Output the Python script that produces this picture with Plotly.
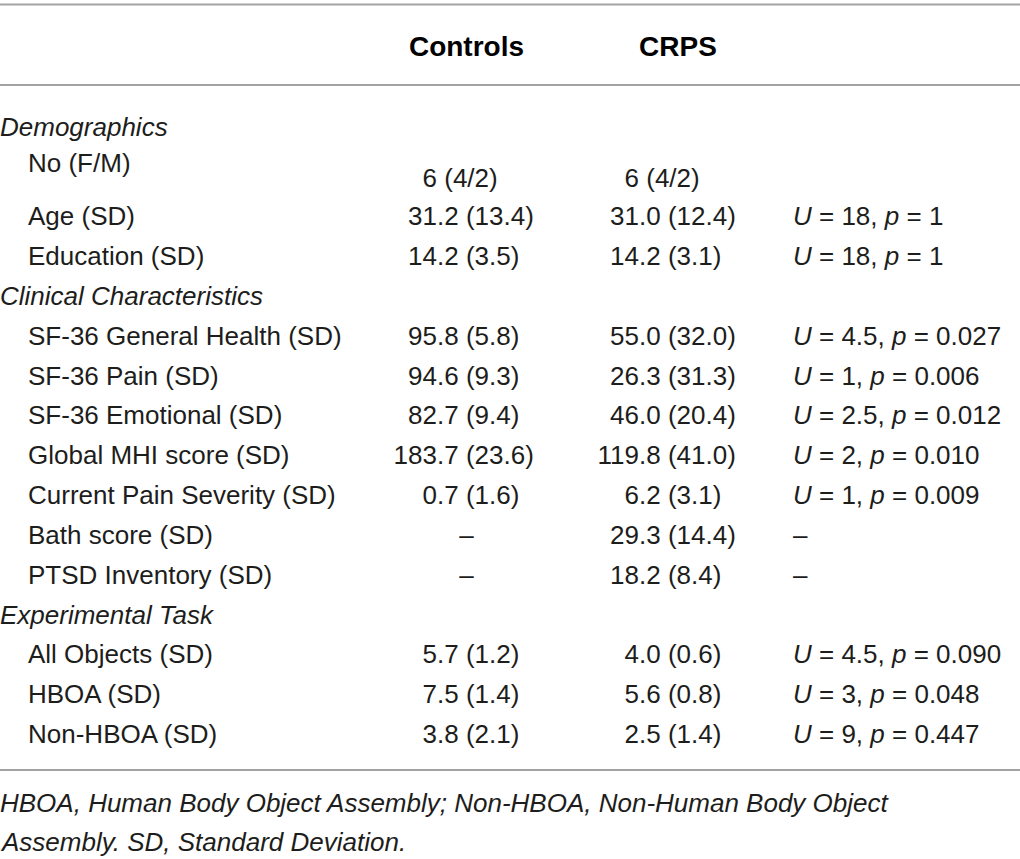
import plotly.graph_objects as go

# table content
col_headers = ['Controls', 'CRPS']
row_labels = ['Demographics', 'No (F/M)', 'Age (SD)', 'Education (SD)',
              'Clinical Characteristics', 'SF-36 General Health (SD)', 'SF-36 Pain (SD)',
              'SF-36 Emotional (SD)', 'Global MHI score (SD)', 'Current Pain Severity (SD)',
              'Bath score (SD)', 'PTSD Inventory (SD)',
              'Experimental Task', 'All Objects (SD)', 'HBOA (SD)', 'Non-HBOA (SD)']
is_section = [True, False, False, False, True, False, False, False, False, False,
              False, False, True, False, False, False]
controls = ['', '6 (4/2)', '31.2 (13.4)', '14.2 (3.5)', '', '95.8 (5.8)', '94.6 (9.3)',
            '82.7 (9.4)', '183.7 (23.6)', '0.7 (1.6)', '–', '–', '', '5.7 (1.2)',
            '7.5 (1.4)', '3.8 (2.1)']
crps = ['', '6 (4/2)', '31.0 (12.4)', '14.2 (3.1)', '', '55.0 (32.0)', '26.3 (31.3)',
        '46.0 (20.4)', '119.8 (41.0)', '6.2 (3.1)', '29.3 (14.4)', '18.2 (8.4)', '',
        '4.0 (0.6)', '5.6 (0.8)', '2.5 (1.4)']
u_vals = [None, None, '18', '18', None, '4.5', '1', '2.5', '2', '1', '–', '–', None,
          '4.5', '3', '9']
p_vals = [None, None, '1', '1', None, '0.027', '0.006', '0.012', '0.010', '0.009', '–', '–',
          None, '0.090', '0.048', '0.447']
footnote = ['HBOA, Human Body Object Assembly; Non-HBOA, Non-Human Body Object',
            'Assembly. SD, Standard Deviation.']

FONT = 'Liberation Sans'
SIZE = 26
HEAD_SIZE = 28
NOTE_SIZE = 26
INK = '#1d1d1b'
RULE = '#a3a3a3'
W, H = 1020, 859

# layout of the table (pixels from top / left)
top_row = 126.7       # first body row
step = 39.85          # row pitch
header_y = 45.8
rule_y = [4.5, 85.0, 770.0]
note_y = [802.5, 841.7]
x_label, x_item = 0, 28
x_ctrl_head, x_crps_head = 466.5, 678
x_ctrl_dec, x_crps_dec = 437, 639
x_stat = 793


def stat_text(u, p):
    if u is None:
        return ''
    if u == '–':
        return '–'
    return f'<i>U</i> = {u}, <i>p</i> = {p}'


def split_dec(s):
    # split a value at its decimal point (or first space) for decimal alignment
    cut = [i for i in (s.find('.'), s.find(' ')) if i >= 0]
    if not s or s == '–' or not cut:
        return '', ''
    k = min(cut)
    return s[:k], s[k:]


stats = [stat_text(u, p) for u, p in zip(u_vals, p_vals)]

# row centres; the No (F/M) row is taller, its label sits near the top
gaps = []
for i, lbl in enumerate(row_labels):
    if i == 0:
        gaps.append(0)
    elif lbl == 'No (F/M)':
        gaps.append(1.276)
    elif row_labels[i - 1] == 'No (F/M)':
        gaps.append(0.96)
    else:
        gaps.append(1.0)
row_y = []
acc = 0.0
for g in gaps:
    acc += g
    row_y.append(top_row + step * acc)
label_y = [yy - 0.377 * step if lbl == 'No (F/M)' else yy for lbl, yy in zip(row_labels, row_y)]


def off(size):
    # plotly puts the baseline a quarter em below the point; shift so caps are centred
    return 0.108 * size


label_text = [f'<i>{l}</i>' if s else l for l, s in zip(row_labels, is_section)]
label_x = [x_label if s else x_item for s in is_section]

font = dict(family=FONT, size=SIZE, color=INK)
fig = go.Figure()


def add_text(xs, ys, texts, pos, f=font):
    fig.add_trace(go.Scatter(x=xs, y=[v + off(f['size']) for v in ys], text=texts,
                             mode='text', textposition=pos, textfont=f,
                             cliponaxis=False, hoverinfo='skip'))


add_text(label_x, label_y, label_text, 'middle right')

for vals, x_dec, x_head in [(controls, x_ctrl_dec, x_ctrl_head), (crps, x_crps_dec, x_crps_head)]:
    left = [split_dec(v)[0] for v in vals]
    right = [split_dec(v)[1] for v in vals]
    dash = ['–' if v == '–' else '' for v in vals]
    add_text([x_dec] * len(vals), row_y, left, 'middle left')
    add_text([x_dec] * len(vals), row_y, right, 'middle right')
    add_text([x_head] * len(vals), row_y, dash, 'middle center')

add_text([x_stat] * len(stats), row_y, stats, 'middle right')
add_text([x_ctrl_head, x_crps_head], [header_y] * 2, [f'<b>{h}</b>' for h in col_headers],
         'middle center', dict(family=FONT, size=HEAD_SIZE, color='#000000'))

# horizontal rules
for ry in rule_y:
    fig.add_shape(type='line', xref='paper', x0=0, x1=1, yref='y', y0=ry, y1=ry,
                  line=dict(color=RULE, width=2))

for line, ny in zip(footnote, note_y):
    fig.add_annotation(text=f'<i>{line}</i>', xref='paper', x=-0.002, xanchor='left',
                       yref='y', y=ny, yanchor='middle', showarrow=False,
                       font=dict(family=FONT, size=NOTE_SIZE, color=INK))

fig.update_layout(width=W, height=H, margin=dict(l=0, r=0, t=0, b=0),
                  paper_bgcolor='white', plot_bgcolor='white', showlegend=False,
                  xaxis=dict(range=[0, W], visible=False, fixedrange=True),
                  yaxis=dict(range=[H, 0], visible=False, fixedrange=True))

fig.write_html('out.html', config={'displayModeBar': False},
               post_script="document.body.style.margin='0';")
